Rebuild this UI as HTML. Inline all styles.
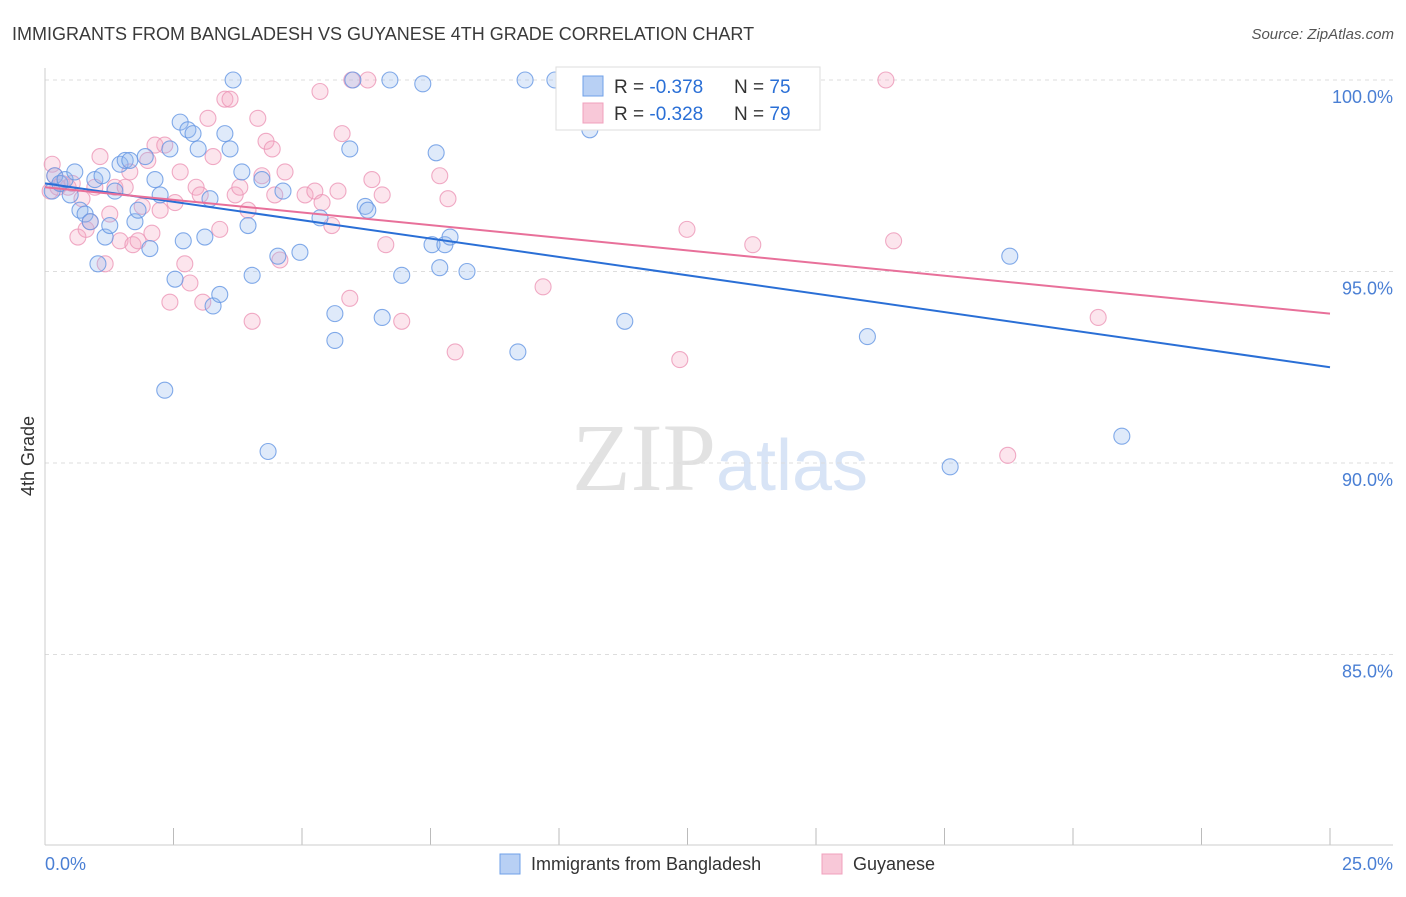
<!DOCTYPE html>
<html><head><meta charset="utf-8"><style>
body{margin:0;background:#fff;font-family:"Liberation Sans",sans-serif;}
</style></head><body>
<svg width="1406" height="892" xmlns="http://www.w3.org/2000/svg" font-family="Liberation Sans, sans-serif">
<text x="12" y="40" font-size="18" fill="#3a3a3a">IMMIGRANTS FROM BANGLADESH VS GUYANESE 4TH GRADE CORRELATION CHART</text>
<text x="1394" y="39" font-size="15" fill="#555" text-anchor="end" font-style="italic">Source: ZipAtlas.com</text>
<text x="720" y="490" font-size="96" text-anchor="middle" fill="#e2e2e2" font-family="Liberation Serif, serif">ZIP<tspan fill="#d8e4f6" font-family="Liberation Sans, sans-serif" font-size="72">atlas</tspan></text>
<g id="grid"></g>
<line x1="45" y1="68" x2="45" y2="845" stroke="#ccc"/>
<line x1="45" y1="845" x2="1393" y2="845" stroke="#ccc"/>
<text transform="translate(34,456) rotate(-90)" font-size="18" fill="#333" text-anchor="middle">4th Grade</text>
<text x="45" y="870" font-size="18" fill="#4a7fd4">0.0%</text>
<text x="1393" y="870" font-size="18" fill="#4a7fd4" text-anchor="end">25.0%</text>
<g id="pts"></g>
<g id="lines"></g>
<g>
<rect x="556" y="67" width="264" height="63" fill="#fff" stroke="#ddd"/>
<rect x="583" y="76" width="20" height="20" fill="#b8d0f4" stroke="#6fa0e8"/>
<rect x="583" y="103" width="20" height="20" fill="#f8c8d8" stroke="#f0a0bd"/>
<text x="614" y="93" font-size="19" fill="#333">R = <tspan fill="#2a6fd6">-0.378</tspan></text>
<text x="734" y="93" font-size="19" fill="#333">N = <tspan fill="#2a6fd6">75</tspan></text>
<text x="614" y="120" font-size="19" fill="#333">R = <tspan fill="#2a6fd6">-0.328</tspan></text>
<text x="734" y="120" font-size="19" fill="#333">N = <tspan fill="#2a6fd6">79</tspan></text>
</g>
<g>
<rect x="500" y="854" width="20" height="20" fill="#b8d0f4" stroke="#6fa0e8"/>
<text x="531" y="870" font-size="18" fill="#333">Immigrants from Bangladesh</text>
<rect x="822" y="854" width="20" height="20" fill="#f8c8d8" stroke="#f0a0bd"/>
<text x="853" y="870" font-size="18" fill="#333">Guyanese</text>
</g>
</svg>
<script>
const yTicks=[100,95,90,85];
const yTickLabels=["100.0%","95.0%","90.0%","85.0%"];
const xTicks=[0,2.5,5,7.5,10,12.5,15,17.5,20,22.5,25];
const blueX=[0.14,0.19,0.29,0.39,0.49,0.58,0.68,0.78,0.88,0.97,1.03,1.11,1.17,1.26,1.36,1.46,1.56,1.65,1.75,1.81,1.95,2.04,2.14,2.24,2.33,2.43,2.53,2.63,2.69,2.78,2.88,2.98,3.11,3.21,3.27,3.40,3.50,3.60,3.66,3.83,3.95,4.03,4.22,4.34,4.53,4.63,4.96,5.35,5.64,5.64,5.93,5.99,6.23,6.28,6.56,6.71,6.94,7.35,7.53,7.61,7.68,7.78,7.88,8.21,9.20,9.34,9.92,10.60,11.28,16.0,17.61,18.77,20.95];
const blueY=[97.1,97.5,97.3,97.4,97.0,97.6,96.6,96.5,96.3,97.4,95.2,97.5,95.9,96.2,97.1,97.8,97.9,97.9,96.3,96.6,98.0,95.6,97.4,97.0,91.9,98.2,94.8,98.9,95.8,98.7,98.6,98.2,95.9,96.9,94.1,94.4,98.6,98.2,100.0,97.6,96.2,94.9,97.4,90.3,95.4,97.1,95.5,96.4,93.9,93.2,98.2,100.0,96.7,96.6,93.8,100.0,94.9,99.9,95.7,98.1,95.1,95.7,95.9,95.0,92.9,100.0,100.0,98.7,93.7,93.3,89.9,95.4,90.7];
const pinkX=[0.10,0.14,0.19,0.25,0.33,0.45,0.53,0.64,0.72,0.80,0.88,0.97,1.07,1.17,1.26,1.36,1.46,1.56,1.65,1.71,1.81,1.89,2.00,2.08,2.14,2.24,2.33,2.43,2.53,2.63,2.72,2.82,2.94,3.02,3.07,3.17,3.27,3.40,3.50,3.60,3.70,3.79,3.95,4.03,4.14,4.22,4.30,4.42,4.47,4.57,4.67,5.06,5.25,5.35,5.39,5.58,5.70,5.78,5.93,5.97,6.28,6.36,6.56,6.63,6.94,7.68,7.84,7.98,9.69,12.35,12.49,13.77,16.36,16.51,18.73,20.49];
const pinkY=[97.1,97.8,97.5,97.2,97.3,97.2,97.3,95.9,96.9,96.1,96.3,97.2,98.0,95.2,96.5,97.2,95.8,97.2,97.6,95.7,95.8,96.7,97.9,96.0,98.3,96.6,98.3,94.2,96.8,97.6,95.2,94.7,97.2,97.0,94.2,99.0,98.0,96.1,99.5,99.5,97.0,97.2,96.6,93.7,99.0,97.5,98.4,98.2,97.0,95.3,97.6,97.0,97.1,99.7,96.8,96.2,97.1,98.6,94.3,100.0,100.0,97.4,97.0,95.7,93.7,97.5,96.9,92.9,94.6,92.7,96.1,95.7,100.0,95.8,90.2,93.8];
const blueTrend=[97.3,92.5];
const pinkTrend=[97.2,93.9];
const NS="http://www.w3.org/2000/svg";
const xs=v=>45+v/25*1285;
const ys=v=>80+(100-v)*38.3;
function mk(t,a,p){const e=document.createElementNS(NS,t);for(const k in a)e.setAttribute(k,a[k]);p.appendChild(e);return e;}
const grid=document.getElementById('grid');
yTicks.forEach((t,i)=>{
 const l=mk('line',{x1:45,x2:1393,y1:ys(t),y2:ys(t),stroke:'#ddd','stroke-dasharray':'4,4'},grid);
 
 
 const tx=mk('text',{x:1393,y:ys(t)+23,'font-size':18,fill:'#4a7fd4','text-anchor':'end'},grid);
 tx.textContent=yTickLabels[i];
 
 
});
xTicks.forEach(t=>{
 const l=mk('line',{x1:xs(t),x2:xs(t),y1:828,y2:845,stroke:'#bbb'},grid);
 
 
});
const pts=document.getElementById('pts');
pinkX.forEach((x,i)=>{
 const c=mk('circle',{cx:xs(x),cy:ys(pinkY[i]),r:8,fill:'rgba(246,170,196,0.3)',stroke:'rgba(236,150,182,0.8)','stroke-width':1.1},pts);
 
 
});
blueX.forEach((x,i)=>{
 const c=mk('circle',{cx:xs(x),cy:ys(blueY[i]),r:8,fill:'rgba(150,186,240,0.3)',stroke:'rgba(100,150,228,0.8)','stroke-width':1.1},pts);
 
 
});
const lines=document.getElementById('lines');
const bl=mk('line',{x1:xs(0),y1:ys(blueTrend[0]),x2:xs(25),y2:ys(blueTrend[1]),stroke:'#2a6fd6','stroke-width':2},lines);


const pl=mk('line',{x1:xs(0),y1:ys(pinkTrend[0]),x2:xs(25),y2:ys(pinkTrend[1]),stroke:'#e8709a','stroke-width':2},lines);


</script>
</body></html>
